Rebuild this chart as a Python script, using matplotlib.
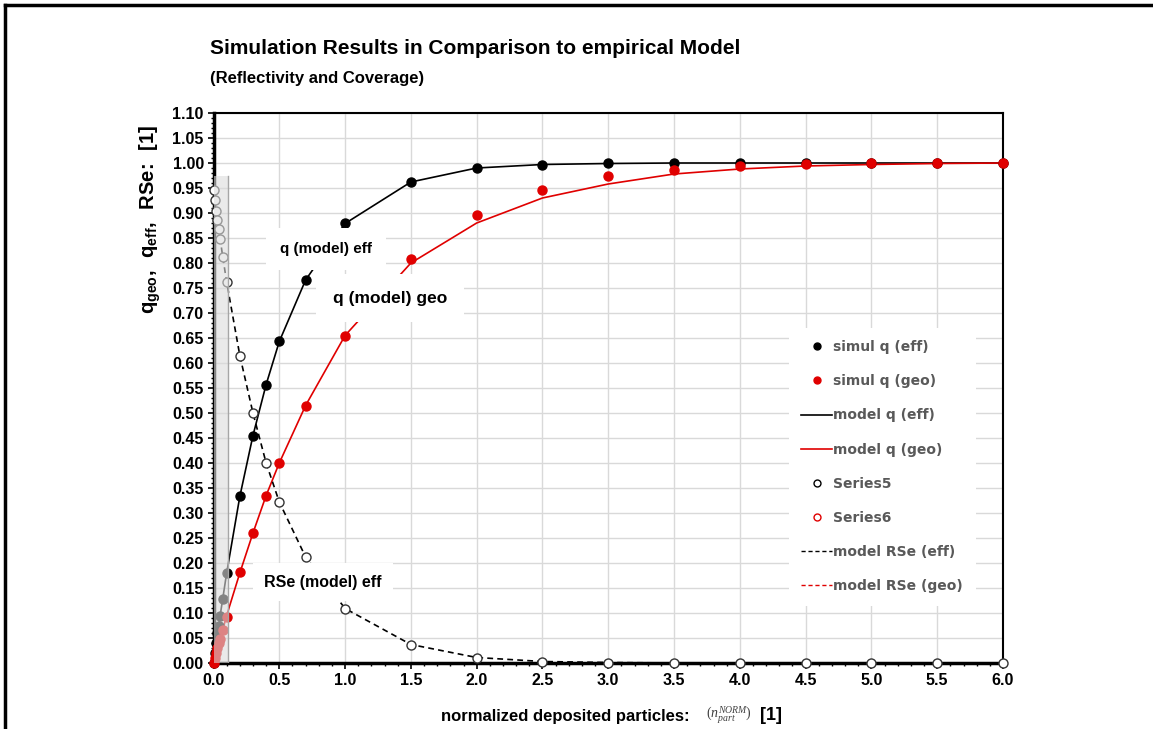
import matplotlib
matplotlib.use("Agg")
import matplotlib.pyplot as plt
from matplotlib.lines import Line2D
from matplotlib.patches import Rectangle
from matplotlib import ticker

plt.rcParams['font.family'] = ['Liberation Sans', 'DejaVu Sans']
plt.rcParams['mathtext.fontset'] = 'custom'
plt.rcParams['mathtext.bf'] = 'Liberation Sans:bold'
plt.rcParams['mathtext.rm'] = 'Liberation Serif'
plt.rcParams['mathtext.it'] = 'Liberation Serif:italic'

# normalized deposited particles
x = [0, 0.01, 0.02, 0.03, 0.04, 0.05, 0.07, 0.1, 0.2, 0.3, 0.4, 0.5, 0.7,
     1.0, 1.5, 2.0, 2.5, 3.0, 3.5, 4.0, 4.5, 5.0, 5.5, 6.0]

# simulation results
q_eff_sim = [0, 0.02, 0.04, 0.06, 0.075, 0.094, 0.128, 0.18, 0.335, 0.455, 0.557, 0.645, 0.767,
             0.88, 0.962, 0.99, 0.997, 1.0, 1.0, 1.0, 1.0, 1.0, 1.0, 1.0]
q_geo_sim = [0, 0.01, 0.02, 0.03, 0.04, 0.048, 0.066, 0.093, 0.183, 0.26, 0.335, 0.40, 0.515,
             0.655, 0.808, 0.897, 0.946, 0.974, 0.987, 0.995, 0.998, 1.0, 1.0, 1.0]
rse_eff_sim = [0.947, 0.926, 0.905, 0.886, 0.869, 0.849, 0.813, 0.762, 0.615, 0.50, 0.40, 0.322, 0.212,
               0.109, 0.037, 0.011, 0.003, 0.001, 0.0, 0.0, 0.0, 0.0, 0.0, 0.0]

# empirical model
q_eff_model = [0, 0.02, 0.04, 0.06, 0.075, 0.094, 0.128, 0.18, 0.333, 0.455, 0.557, 0.643, 0.766,
               0.879, 0.962, 0.99, 0.997, 0.999, 1.0, 1.0, 1.0, 1.0, 1.0, 1.0]
q_geo_model = [0, 0.01, 0.02, 0.03, 0.04, 0.048, 0.066, 0.095, 0.18, 0.26, 0.335, 0.40, 0.515,
               0.655, 0.80, 0.88, 0.93, 0.958, 0.978, 0.988, 0.994, 0.997, 0.999, 1.0]
rse_eff_model = [0.95, 0.926, 0.905, 0.886, 0.869, 0.849, 0.813, 0.762, 0.615, 0.50, 0.40, 0.322, 0.212,
                 0.109, 0.037, 0.011, 0.003, 0.001, 0.0, 0.0, 0.0, 0.0, 0.0, 0.0]

RED = '#e00000'
GREY_TXT = '#595959'

fig = plt.figure(figsize=(11.53, 7.29), dpi=100)
ax = fig.add_axes([213.5 / 1153, 1 - 663 / 729, (1003 - 213.5) / 1153, 550 / 729])

ax.plot(x, q_eff_model, color='black', lw=1.2, zorder=3)
ax.plot(x, q_geo_model, color=RED, lw=1.2, zorder=3)
ax.plot(x, rse_eff_model, color='black', lw=1.2, ls=(0, (3.5, 2.5)), zorder=3)
ax.plot(x, q_eff_sim, 'o', color='black', ms=6.5, zorder=4, clip_on=False)
ax.plot(x, q_geo_sim, 'o', color=RED, ms=6.5, zorder=4, clip_on=False)
ax.plot(x, rse_eff_sim, 'o', mfc='white', mec='#333333', mew=1.0, ms=6.5, zorder=4, clip_on=False)

# faded band over the first points
ax.add_patch(Rectangle((0, 0), 0.11, 0.975, facecolor='#dcdcdc', alpha=0.6,
                       edgecolor='none', zorder=5))
ax.plot([0.11, 0.11], [0, 0.975], color='#a6a6a6', lw=1.0, zorder=5)

# model labels on white boxes
ax.text(0.855, 0.828, 'q (model) eff', fontsize=11, fontweight='bold', ha='center', va='center',
        bbox=dict(facecolor='white', edgecolor='none', pad=10), zorder=6)
ax.text(1.34, 0.73, 'q (model) geo', fontsize=12.5, fontweight='bold', ha='center', va='center',
        bbox=dict(facecolor='white', edgecolor='none', pad=12), zorder=6)
ax.text(0.83, 0.162, 'RSe (model) eff', fontsize=11.5, fontweight='bold', ha='center', va='center',
        bbox=dict(facecolor='white', edgecolor='none', pad=8), zorder=6)

ax.set_xlim(0, 6)
ax.set_ylim(0, 1.10)
ax.xaxis.set_major_locator(ticker.MultipleLocator(0.5))
ax.xaxis.set_minor_locator(ticker.MultipleLocator(0.1))
ax.yaxis.set_major_locator(ticker.MultipleLocator(0.05))
ax.yaxis.set_minor_locator(ticker.MultipleLocator(0.01))
ax.xaxis.set_major_formatter(ticker.FormatStrFormatter('%.1f'))
ax.yaxis.set_major_formatter(ticker.FormatStrFormatter('%.2f'))
ax.grid(True, which='major', color='#d9d9d9', lw=1.0)
ax.set_axisbelow(True)
ax.tick_params(which='major', direction='out', length=4, width=1.2, labelsize=11.5, pad=3)
ax.tick_params(which='minor', direction='out', length=2.5, width=1.0)
for lab in ax.get_xticklabels() + ax.get_yticklabels():
    lab.set_fontweight('bold')
for side in ['left', 'bottom']:
    ax.spines[side].set_linewidth(2.5)
for side in ['top', 'right']:
    ax.spines[side].set_linewidth(1.5)

handles = [
    Line2D([], [], ls='none', marker='o', color='black', ms=5),
    Line2D([], [], ls='none', marker='o', color=RED, ms=5),
    Line2D([], [], color='black', lw=1.2),
    Line2D([], [], color=RED, lw=1.2),
    Line2D([], [], ls='none', marker='o', mfc='white', mec='black', ms=5),
    Line2D([], [], ls='none', marker='o', mfc='white', mec=RED, ms=5),
    Line2D([], [], color='black', lw=1.0, ls=(0, (3, 2))),
    Line2D([], [], color=RED, lw=1.0, ls=(0, (3, 2))),
]
labels = ['simul q (eff)', 'simul q (geo)', 'model q (eff)', 'model q (geo)',
          'Series5', 'Series6', 'model RSe (eff)', 'model RSe (geo)']
leg = ax.legend(handles, labels, loc='center left', bbox_to_anchor=(0.72, 0.357),
                frameon=True, facecolor='white', edgecolor='none', framealpha=1,
                prop={'family': 'DejaVu Sans', 'weight': 'bold', 'size': 10},
                handlelength=2.2, handletextpad=0.1, labelspacing=1.45, borderpad=0.9)
for t in leg.get_texts():
    t.set_color(GREY_TXT)
leg.set_zorder(7)

fig.text(210 / 1153, 1 - 48 / 729, 'Simulation Results in Comparison to empirical Model',
         fontsize=15, fontweight='bold', va='center', ha='left')
fig.text(210 / 1153, 1 - 78 / 729, '(Reflectivity and Coverage)',
         fontsize=12, fontweight='bold', va='center', ha='left')

fig.text(150 / 1153, 1 - 219 / 729, r'$\mathbf{q_{geo},\ \ q_{eff},\ \ RSe\!:\ \ [1]}$',
         fontsize=14.5, rotation=90, ha='center', va='center')

fig.text(690 / 1153, 1 - 716 / 729, 'normalized deposited particles:', fontsize=12,
         fontweight='bold', ha='right', va='center')
fig.text(706 / 1153, 1 - 715 / 729, r'$(n_{part}^{NORM})$', fontsize=10,
         ha='left', va='center', color='#404040')
fig.text(760 / 1153, 1 - 716 / 729, '[1]', fontsize=13, fontweight='bold',
         ha='left', va='center')

# outer frame
fig.add_artist(Line2D([5 / 1153, 5 / 1153], [0, 1 - 5 / 729], color='black', lw=2.5))
fig.add_artist(Line2D([5 / 1153, 1], [1 - 5 / 729, 1 - 5 / 729], color='black', lw=2.5))

fig.savefig('out.png', dpi=100)
